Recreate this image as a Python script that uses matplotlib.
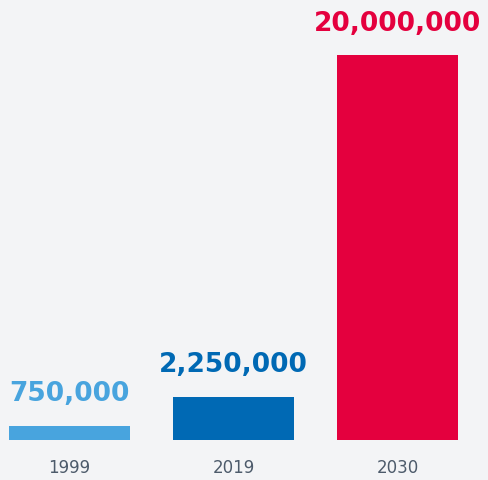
import matplotlib
matplotlib.use('Agg')
import matplotlib.pyplot as plt

years = ['1999', '2019', '2030']
values = [750000, 2250000, 20000000]
labels = ['750,000', '2,250,000', '20,000,000']
colors = ['#48a4de', '#0069b4', '#e4003e']

bg = '#f3f4f6'
fig = plt.figure(figsize=(4.89, 4.80), dpi=100, facecolor=bg)
ax = fig.add_axes([0, 0, 1, 1], facecolor=bg)

x = range(len(years))
ax.bar(x, values, width=0.738, color=colors)

for i, (v, lab, c) in enumerate(zip(values, labels, colors)):
    ax.annotate(lab, (i, v), xytext=(0, 17.5), textcoords='offset points',
                ha='center', va='baseline', fontsize=19, fontweight='bold',
                family='DejaVu Sans', color=c)
    ax.annotate(years[i], (i, 0), xytext=(0, -20.5), textcoords='offset points',
                ha='center', va='center', fontsize=12, family='DejaVu Sans',
                color='#4d5b6b')

ax.set_xlim(-0.4238, 2.558)
ax.set_ylim(-2078000, 22857000)
ax.axis('off')

fig.savefig('out.png', dpi=100, facecolor=bg)
